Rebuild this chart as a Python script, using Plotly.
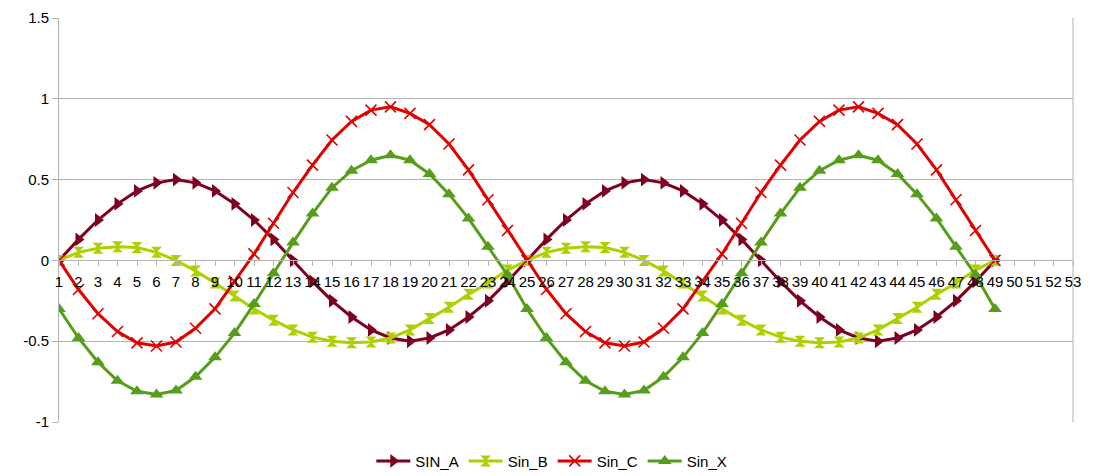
import plotly.graph_objects as go

# ---- data ----
categories = list(range(1, 50))
x_tick_vals = list(range(1, 54))
x_tick_text = [str(v) for v in x_tick_vals]
y_tick_vals = [-1, -0.5, 0, 0.5, 1, 1.5]
y_tick_text = ["-1", "-0.5", "0", "0.5", "1", "1.5"]

sin_a = [0, 0.13, 0.25, 0.35, 0.43, 0.48, 0.5, 0.48, 0.43, 0.35, 0.25, 0.13, 0,
         -0.13, -0.25, -0.35, -0.43, -0.48, -0.5, -0.48, -0.43, -0.35, -0.25, -0.13, 0,
         0.13, 0.25, 0.35, 0.43, 0.48, 0.5, 0.48, 0.43, 0.35, 0.25, 0.13, 0,
         -0.13, -0.25, -0.35, -0.43, -0.48, -0.5, -0.48, -0.43, -0.35, -0.25, -0.13, 0]

sin_b = [0, 0.05, 0.075, 0.085, 0.08, 0.05, 0.0, -0.065, -0.14, -0.22, -0.3, -0.37, -0.43,
         -0.475, -0.5, -0.51, -0.505, -0.48, -0.43, -0.36, -0.29, -0.21, -0.14, -0.06, 0,
         0.05, 0.075, 0.085, 0.08, 0.05, 0.0, -0.065, -0.14, -0.22, -0.3, -0.37, -0.43,
         -0.475, -0.5, -0.51, -0.505, -0.48, -0.43, -0.36, -0.29, -0.21, -0.14, -0.06, 0]

sin_c = [0, -0.18, -0.33, -0.44, -0.51, -0.53, -0.505, -0.42, -0.3, -0.13, 0.04, 0.23, 0.42,
         0.59, 0.745, 0.86, 0.93, 0.95, 0.91, 0.84, 0.72, 0.56, 0.375, 0.185, 0,
         -0.18, -0.33, -0.44, -0.51, -0.53, -0.505, -0.42, -0.3, -0.13, 0.04, 0.23, 0.42,
         0.59, 0.745, 0.86, 0.93, 0.95, 0.91, 0.84, 0.72, 0.56, 0.375, 0.185, 0]

sin_x = [-0.3, -0.48, -0.63, -0.745, -0.81, -0.83, -0.805, -0.72, -0.6, -0.45, -0.27, -0.08, 0.11,
         0.29, 0.45, 0.555, 0.62, 0.65, 0.62, 0.535, 0.41, 0.26, 0.085, -0.09, -0.3,
         -0.48, -0.63, -0.745, -0.81, -0.83, -0.805, -0.72, -0.6, -0.45, -0.27, -0.08, 0.11,
         0.29, 0.45, 0.555, 0.62, 0.65, 0.62, 0.535, 0.41, 0.26, 0.085, -0.09, -0.3]

series_names = ["SIN_A", "Sin_B", "Sin_C", "Sin_X"]

# ---- styles ----
styles = [
    dict(color="#7e0021", symbol="triangle-right", size=12, lw=0),
    dict(color="#aecf00", symbol="hourglass", size=11, lw=0),
    dict(color="#e00000", symbol="x-thin", size=11, lw=1.6),
    dict(color="#579d1c", symbol="triangle-up", size=12, lw=0),
]

grid = "#b3b3b3"
font_family = "Liberation Sans, Arial, sans-serif"

fig = go.Figure()
for name, vals, st in zip(series_names, [sin_a, sin_b, sin_c, sin_x], styles):
    fig.add_trace(go.Scatter(
        x=categories, y=vals, name=name, mode="lines+markers",
        line=dict(color=st["color"], width=3),
        marker=dict(symbol=st["symbol"], size=st["size"], color=st["color"],
                    line=dict(color=st["color"], width=st["lw"])),
    ))

fig.update_layout(
    width=1096, height=468,
    margin=dict(l=51, r=31, t=10, b=54, autoexpand=False),
    paper_bgcolor="white", plot_bgcolor="white",
    font=dict(family=font_family, size=15, color="#000000"),
    showlegend=True,
    legend=dict(orientation="h", x=0.486, xanchor="center", y=-0.097, yanchor="middle",
                font=dict(size=15), itemwidth=34, traceorder="normal"),
    xaxis=dict(
        range=[1, 53], tickmode="array", tickvals=x_tick_vals, ticktext=x_tick_text,
        tickangle=0, anchor="free", position=0.4, automargin=False,
        showline=True, linecolor=grid, linewidth=1,
        ticks="outside", ticklen=5, tickcolor=grid, ticklabelstandoff=3,
        showgrid=False, zeroline=False,
    ),
    yaxis=dict(
        range=[-1, 1.5], tickmode="array", tickvals=y_tick_vals, ticktext=y_tick_text,
        automargin=False,
        showline=True, linecolor=grid, linewidth=1,
        ticks="outside", ticklen=6, tickcolor=grid,
        showgrid=True, gridcolor=grid, gridwidth=1, zeroline=False,
    ),
    shapes=[dict(type="line", xref="paper", yref="paper", x0=1, x1=1, y0=0, y1=1,
                 line=dict(color=grid, width=1))],
)

fig.write_html("out.html")
